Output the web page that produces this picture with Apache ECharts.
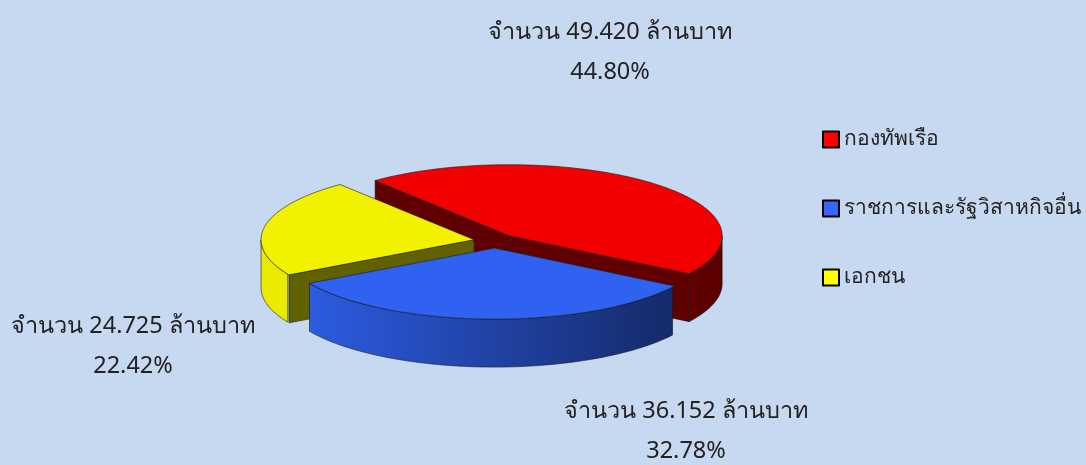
<!DOCTYPE html>
<html>
<head>
<meta charset="utf-8">
<style>
  html, body { margin: 0; padding: 0; background: #C6D9F0; }
  #main { width: 1086px; height: 465px; }
</style>
<script src="https://cdn.jsdelivr.net/npm/echarts@6/dist/echarts.min.js"></script>
</head>
<body>
<div id="main"></div>
<script>
// ข้อมูล
var categories = ['กองทัพเรือ', 'ราชการและรัฐวิสาหกิจอื่น', 'เอกชน'];
var amounts = [49.420, 36.152, 24.725];          // ล้านบาท
var percents = ['44.80%', '32.78%', '22.42%'];

// สี
var topColors = ['#F20000', '#3062F2', '#F2F200'];
var legendColors = ['#FF0000', '#3366FF', '#FFFF00'];
// ตำแหน่ง label (px)
var labelPos = [[610, 52], [686, 431], [133, 346]];

var FONT = '"Noto Sans", "DejaVu Sans", sans-serif';

// pie geometry
var cx = 495, cy = 241, rx = 213, ry = 71, depth = 48, explode = 0.1, startAngle = 129;

var total = 0;
for (var i = 0; i < amounts.length; i++) total += amounts[i];
// ช่วงมุม (CCW a0 -> a1) ตามเข็มนาฬิกาจาก startAngle
var ranges = [];
var cur = startAngle;
for (var i = 0; i < amounts.length; i++) {
	var span = amounts[i] / total * 360;
	ranges.push([cur - span, cur]);
	cur -= span;
}
// ลำดับการวาด : ชิ้นด้านหลังก่อน
var order = ranges.map(function (r, i) {
	var m = (r[0] + r[1]) / 2 * Math.PI / 180;
	return { i: i, s: Math.sin(m) };
}).sort(function (a, b) { return b.s - a.s; });
var rank = [];
order.forEach(function (o, k) { rank[o.i] = k; });

function shade(hex, f) {
	var n = parseInt(hex.slice(1), 16);
	var r = Math.round(((n >> 16) & 255) * f), g = Math.round(((n >> 8) & 255) * f), b = Math.round((n & 255) * f);
	return 'rgb(' + r + ',' + g + ',' + b + ')';
}

function renderItem(params, api) {
	var idx = params.dataIndex;
	var a0 = ranges[idx][0], a1 = ranges[idx][1];
	var m = (a0 + a1) / 2 * Math.PI / 180;
	var ox = cx + explode * rx * Math.cos(m);
	var oy = cy - explode * ry * Math.sin(m);
	var col = topColors[idx];
	var dark = shade(col, 0.4);
	var z = rank[idx] * 10;
	var children = [];

	function pt(deg, d) {
		var t = deg * Math.PI / 180;
		return [ox + rx * Math.cos(t), oy - ry * Math.sin(t) + (d || 0)];
	}
	// ผนังด้านตัด
	[a0, a1].forEach(function (a, j) {
		var c = Math.cos(a * Math.PI / 180);
		var vis = j === 0 ? c > 0 : c < 0;
		if (!vis) return;
		var e = pt(a);
		children.push({
			type: 'polygon', z2: z + 1,
			shape: { points: [[ox, oy], e, [e[0], e[1] + depth], [ox, oy + depth]] },
			style: { fill: dark, stroke: '#1a1a1a', lineWidth: 0.6 }
		});
	});
	// ผนังโค้งด้านหน้า
	var topArc = [];
	for (var t = a0; t <= a1 + 0.001; t += 1) {
		var tt = Math.min(t, a1);
		if (Math.sin(tt * Math.PI / 180) <= 0.0001) topArc.push(tt);
	}
	if (topArc.length > 1) {
		var pts = [];
		topArc.forEach(function (t) { pts.push(pt(t)); });
		for (var k = topArc.length - 1; k >= 0; k--) pts.push(pt(topArc[k], depth));
		children.push({
			type: 'polygon', z2: z + 2,
			shape: { points: pts },
			style: {
				fill: {
					type: 'linear', global: true,
					x: cx - rx, y: 0, x2: cx + rx, y2: 0,
					colorStops: [
						{ offset: 0, color: shade(col, 0.97) },
						{ offset: 1, color: shade(col, 0.38) }
					]
				},
				stroke: '#1a1a1a', lineWidth: 0.6
			}
		});
	}
	// หน้าบน
	var tp = [[ox, oy]];
	for (var t = a0; t < a1; t += 1) tp.push(pt(t));
	tp.push(pt(a1));
	children.push({
		type: 'polygon', z2: z + 5,
		shape: { points: tp },
		style: { fill: col, stroke: '#1a1a1a', lineWidth: 0.6 }
	});
	// label
	children.push({
		type: 'text', z2: 100,
		style: {
			text: 'จำนวน ' + amounts[idx].toFixed(3) + ' ล้านบาท\n' + percents[idx],
			x: labelPos[idx][0], y: labelPos[idx][1],
			align: 'center', verticalAlign: 'middle',
			fontSize: 23.5, lineHeight: 40, fill: '#222222', fontFamily: FONT
		}
	});
	return { type: 'group', children: children };
}

var myChart = echarts.init(document.getElementById('main'));
var option = {
	backgroundColor: '#C6D9F0',
	animation: false,
	legend: {
		orient: 'vertical',
		left: 817,
		top: 124,
		itemWidth: 16,
		itemHeight: 16,
		itemGap: 48,
		icon: 'rect',
		selectedMode: false,
		itemStyle: { borderColor: '#000', borderWidth: 2 },
		textStyle: { fontSize: 21, color: '#222222', fontFamily: FONT },
		data: categories
	},
	series: [
		{
			type: 'custom',
			coordinateSystem: 'none',
			renderItem: renderItem,
			data: amounts,
			silent: true
		},
		{
			type: 'pie',
			radius: 0,
			center: [-100, -100],
			label: { show: false },
			silent: true,
			data: categories.map(function (c, i) {
				return { name: c, value: amounts[i], itemStyle: { color: legendColors[i] } };
			})
		}
	]
};
myChart.setOption(option);
</script>
</body>
</html>
